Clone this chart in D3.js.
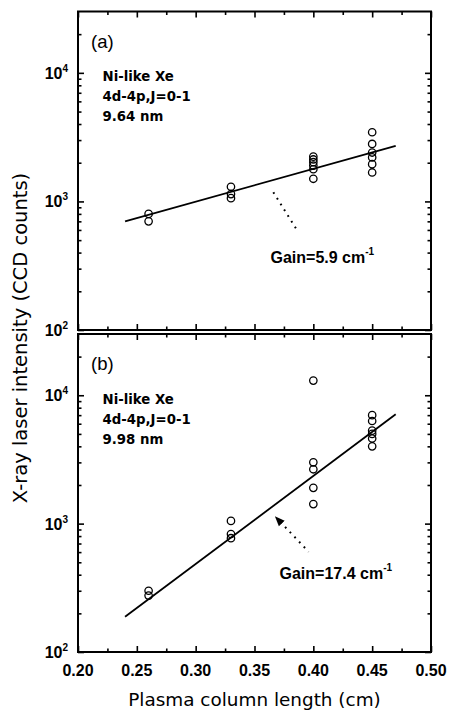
<!DOCTYPE html>
<html>
<head>
<meta charset="utf-8">
<script src="https://cdn.jsdelivr.net/npm/d3@7"></script>
<style>
  html, body { margin: 0; padding: 0; background: #fff; }
  svg { display: block; }
</style>
</head>
<body>
<svg id="chart" width="450" height="712"></svg>
<script>
// ---------- data ----------
const xCategories = [0.26, 0.33, 0.40, 0.45];
const panelAValues = [
  [800, 700],
  [1300, 1140, 1060],
  [2230, 2120, 2020, 1900, 1780, 1500],
  [3450, 2800, 2400, 2200, 1950, 1680]
];
const panelBValues = [
  [300, 275],
  [1050, 830, 770],
  [13000, 3000, 2650, 1900, 1420],
  [7000, 6300, 5300, 5000, 4600, 4000]
];
const fitX = [0.24, 0.47];
const fitA = [700, 2700];
const fitB = [188, 7100];
const arrowAX = [0.366, 0.386];
const arrowAY = [1180, 600];
const arrowBX = [0.372, 0.396];
const arrowBY = [1030, 604];
const xMajorTicks = [0.20, 0.25, 0.30, 0.35, 0.40, 0.45, 0.50];
const xMinorTicks = [0.225, 0.275, 0.325, 0.375, 0.425, 0.475];
const yMajorTicks = [100, 1000, 10000];
const yMinorTicks = [200, 300, 400, 500, 600, 700, 800, 900,
                     2000, 3000, 4000, 5000, 6000, 7000, 8000, 9000, 20000];
const yExponents = [2, 3, 4];
const panelLabels = ["(a)", "(b)"];
const panelInfo = [
  ["Ni-like Xe", "4d-4p,J=0-1", "9.64 nm"],
  ["Ni-like Xe", "4d-4p,J=0-1", "9.98 nm"]
];
const gainText = ["Gain=5.9 cm", "Gain=17.4 cm"];
const xTitle = "Plasma column length (cm)";
const yTitle = "X-ray laser intensity (CCD counts)";

// ---------- layout ----------
const svg = d3.select("#chart");
const left = 78, right = 431;
const panels = [
  { top: 11.5, bottom: 330, values: panelAValues, fit: fitA, ax: arrowAX, ay: arrowAY, head: false },
  { top: 334, bottom: 652, values: panelBValues, fit: fitB, ax: arrowBX, ay: arrowBY, head: true }
];
const x = d3.scaleLinear().domain([0.20, 0.50]).range([left, right]);

const defs = svg.append("defs");
defs.append("marker").attr("id", "ah").attr("viewBox", "0 0 10 10")
  .attr("refX", 2).attr("refY", 5).attr("markerWidth", 5).attr("markerHeight", 5)
  .attr("orient", "auto-start-reverse")
  .append("path").attr("d", "M0,1 L10,5 L0,9 z").attr("fill", "#000");

const tickFont = "'Liberation Sans', Arial, sans-serif";

panels.forEach((p, i) => {
  const y = d3.scaleLog().domain([100, 30000]).range([p.bottom, p.top]);
  const g = svg.append("g");

  // axes ticks (inward)
  const mk = (axis, tr, vals, size) => {
    const a = g.append("g").attr("transform", tr)
      .call(axis.tickValues(vals).tickSize(size).tickFormat(""));
    a.select(".domain").remove();
    a.selectAll("line").attr("stroke", "#000").attr("stroke-width", 1.6);
  };
  mk(d3.axisBottom(x), `translate(0,${p.bottom})`, xMajorTicks, -6);
  mk(d3.axisBottom(x), `translate(0,${p.bottom})`, xMinorTicks, -3.5);
  mk(d3.axisTop(x), `translate(0,${p.top})`, xMajorTicks, -6);
  mk(d3.axisTop(x), `translate(0,${p.top})`, xMinorTicks, -3.5);
  mk(d3.axisLeft(y), `translate(${left},0)`, yMajorTicks, -6);
  mk(d3.axisLeft(y), `translate(${left},0)`, yMinorTicks, -3.5);
  mk(d3.axisRight(y), `translate(${right},0)`, yMajorTicks, -6);
  mk(d3.axisRight(y), `translate(${right},0)`, yMinorTicks, -3.5);

  // frame
  g.append("rect").attr("x", left).attr("y", p.top)
    .attr("width", right - left).attr("height", p.bottom - p.top)
    .attr("fill", "none").attr("stroke", "#000").attr("stroke-width", 2);

  // y tick labels 10^n
  yMajorTicks.forEach((v, k) => {
    const t = g.append("text").attr("x", left - 10).attr("y", y(v) + 6)
      .attr("text-anchor", "end")
      .style("font-family", tickFont).style("font-weight", "bold").style("font-size", "16px");
    t.append("tspan").text("10");
    t.append("tspan").attr("dy", -7).style("font-size", "10px").text(yExponents[k]);
  });

  // fit line
  const line = d3.line().x(d => x(d[0])).y(d => y(d[1]));
  g.append("path").datum(fitX.map((xx, k) => [xx, p.fit[k]]))
    .attr("d", line).attr("fill", "none").attr("stroke", "#000").attr("stroke-width", 1.8);

  // points
  const pts = [];
  xCategories.forEach((c, k) => p.values[k].forEach(v => pts.push([c, v])));
  g.selectAll("circle.pt").data(pts).enter().append("circle")
    .attr("cx", d => x(d[0])).attr("cy", d => y(d[1])).attr("r", 3.7)
    .attr("fill", "none").attr("stroke", "#000").attr("stroke-width", 1.3);

  // dotted arrow
  const arr = g.append("path").datum(p.ax.map((xx, k) => [xx, p.ay[k]]))
    .attr("d", line).attr("fill", "none").attr("stroke", "#000")
    .attr("stroke-width", 2).attr("stroke-dasharray", "1.8,5");
  if (p.head) arr.attr("marker-start", "url(#ah)");

  // panel label
  g.append("text").attr("x", 91).attr("y", p.top + 36)
    .style("font-family", tickFont).style("font-size", "18.5px").text(panelLabels[i]);

  // info text
  panelInfo[i].forEach((s, k) => {
    g.append("text").attr("x", 102.5).attr("y", p.top + 69.5 + k * 20)
      .style("font-family", "'DejaVu Sans', sans-serif").style("font-weight", "bold")
      .style("font-size", "13.3px").text(s);
  });

  // gain text
  const gt = g.append("text").attr("x", i === 0 ? 270.5 : 279.5).attr("y", p.top + (i === 0 ? 251.5 : 244.5))
    .style("font-family", tickFont).style("font-weight", "bold").style("font-size", "16px");
  gt.append("tspan").text(gainText[i]);
  gt.append("tspan").attr("dy", -8).style("font-size", "10px").text("-1");
});

// x tick labels (bottom panel only)
svg.append("g").selectAll("text").data(xMajorTicks).enter().append("text")
  .attr("x", d => x(d)).attr("y", 676).attr("text-anchor", "middle")
  .style("font-family", tickFont).style("font-weight", "bold").style("font-size", "16px")
  .text(d => d3.format(".2f")(d));

// axis titles
svg.append("text").attr("x", (left + right) / 2).attr("y", 706).attr("text-anchor", "middle")
  .style("font-family", "'DejaVu Sans', sans-serif").style("font-size", "18.4px").text(xTitle);
svg.append("text").attr("transform", "translate(27,338) rotate(-90)").attr("text-anchor", "middle")
  .style("font-family", "'DejaVu Sans', sans-serif").style("font-size", "19.5px").text(yTitle);
</script>
</body>
</html>
